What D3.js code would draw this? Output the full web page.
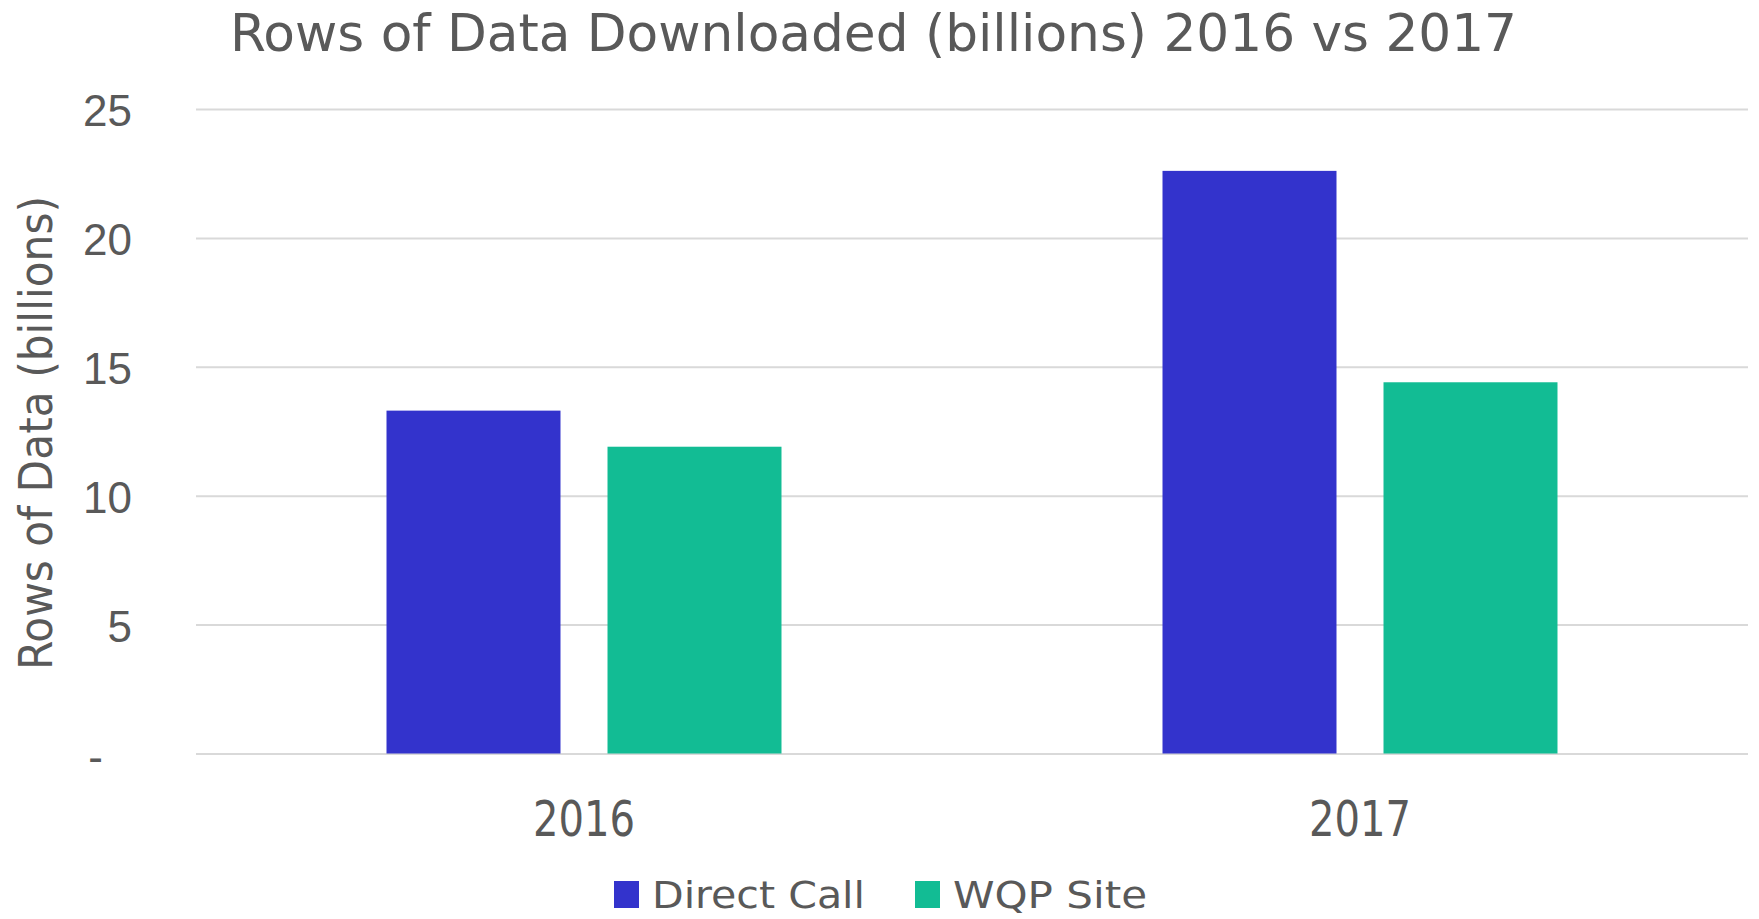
<!DOCTYPE html>
<html>
<head>
<meta charset="utf-8">
<script src="https://cdn.jsdelivr.net/npm/d3@7"></script>
<style>
  body { margin: 0; background: #fff; }
  .narrow { font-family: "Liberation Sans Narrow", "DejaVu Sans Condensed", "Liberation Sans", sans-serif; }
</style>
</head>
<body>
<div class="container"></div>
<script>
// data
const years = ["2016", "2017"];
const seriesNames = ["Direct Call", "WQP Site"];
const directCall = [13.3, 22.6];
const wqpSite = [11.9, 14.4];
const yTicks = [0, 5, 10, 15, 20, 25];
const colors = ["#3333cc", "#12bc94"];

const width = 1759, height = 919;
const margin = { top: 109, right: 11, bottom: 165.5, left: 196 };
const textColor = "#595959";

const rows = years.map((y, i) => ({ year: y, values: [directCall[i], wqpSite[i]] }));

const svg = d3.select(".container").append("svg")
    .attr("width", width)
    .attr("height", height)
    .attr("viewBox", [0, 0, width, height]);

const x0 = d3.scaleBand()
    .domain(years)
    .range([margin.left, width - margin.right])
    .paddingInner(0)
    .paddingOuter(0);

const x1 = d3.scaleBand()
    .domain(seriesNames)
    .range([0, x0.bandwidth()])
    .paddingInner(0.2127)
    .paddingOuter(0.862);

const y = d3.scaleLinear()
    .domain([0, 25])
    .range([height - margin.bottom, margin.top]);

// gridlines + y labels
const gy = svg.append("g")
    .attr("transform", `translate(${margin.left},0)`)
    .call(d3.axisLeft(y)
        .tickValues(yTicks)
        .tickSize(-(width - margin.left - margin.right))
        .tickPadding(64)
        .tickFormat(d => d === 0 ? "-" : d));
gy.select(".domain").remove();
gy.selectAll(".tick line")
    .attr("stroke", "#d9d9d9")
    .attr("stroke-width", 2);
gy.selectAll(".tick text")
    .attr("fill", textColor)
    .attr("font-family", "'Liberation Sans', Arial, sans-serif")
    .attr("font-size", 44)
    .attr("dy", "0.38em");
gy.selectAll(".tick text").filter(d => d === 0)
    .attr("dx", -29)
    .attr("dy", "0.42em");

// bars
svg.append("g")
    .selectAll("g")
    .data(rows)
    .join("g")
    .attr("transform", d => `translate(${x0(d.year)},0)`)
    .selectAll("rect")
    .data(d => d.values.map((v, i) => ({ key: seriesNames[i], value: v, i })))
    .join("rect")
    .attr("x", d => x1(d.key))
    .attr("y", d => y(d.value))
    .attr("width", x1.bandwidth())
    .attr("height", d => y(0) - y(d.value))
    .attr("fill", d => colors[d.i]);

// x labels
svg.append("g")
    .selectAll("text")
    .data(years)
    .join("text")
    .attr("class", "narrow")
    .attr("x", d => x0(d) + x0.bandwidth() / 2)
    .attr("y", 836)
    .attr("text-anchor", "middle")
    .attr("font-size", 50)
    .attr("fill", textColor)
    .attr("textLength", 102)
    .attr("lengthAdjust", "spacingAndGlyphs")
    .text(d => d);

// title
svg.append("text")
    .attr("class", "narrow")
    .attr("x", 230)
    .attr("y", 51)
    .attr("font-size", 52)
    .attr("fill", textColor)
    .attr("textLength", 1287)
    .attr("lengthAdjust", "spacingAndGlyphs")
    .text("Rows of Data Downloaded (billions) 2016 vs 2017");

// y axis title
svg.append("text")
    .attr("class", "narrow")
    .attr("transform", "translate(52,433) rotate(-90)")
    .attr("text-anchor", "middle")
    .attr("font-size", 46)
    .attr("fill", textColor)
    .attr("textLength", 474)
    .attr("lengthAdjust", "spacingAndGlyphs")
    .text("Rows of Data (billions)");

// legend
const legendX = [614, 915];
const legendW = [213, 194];
const legend = svg.append("g")
    .selectAll("g")
    .data(seriesNames)
    .join("g")
    .attr("transform", (d, i) => `translate(${legendX[i]},881)`);
legend.append("rect")
    .attr("width", 25)
    .attr("height", 27)
    .attr("fill", (d, i) => colors[i]);
legend.append("text")
    .attr("class", "narrow")
    .attr("x", 38)
    .attr("y", 27)
    .attr("font-size", 38)
    .attr("fill", textColor)
    .attr("textLength", (d, i) => legendW[i])
    .attr("lengthAdjust", "spacingAndGlyphs")
    .text(d => d);
</script>
</body>
</html>
